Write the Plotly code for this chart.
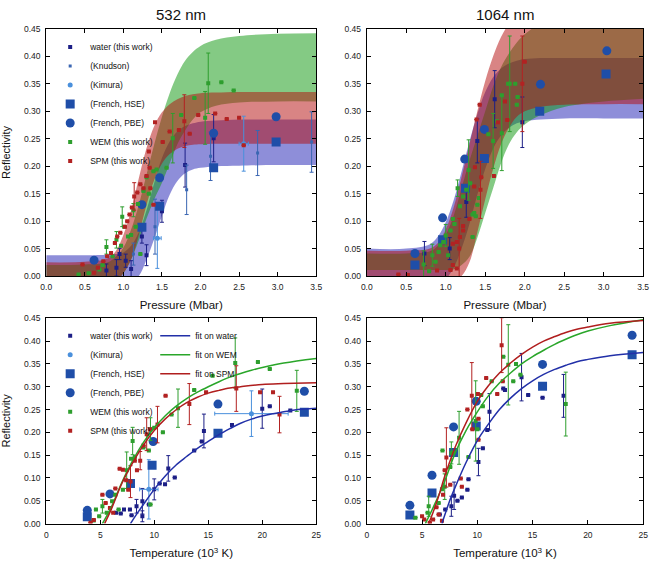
import plotly.graph_objects as go

# ---------------- colours ----------------
C_WATER = "#1c1f86"
C_KNUD = "#3a66b2"
C_KIM = "#4a90dc"
C_FRENCH = "#1f4ea8"
C_WEM = "#2e9e2e"
C_SPM = "#b22222"
C_FIT_WATER = "#2230a8"
C_FIT_WEM = "#2aa62a"
C_FIT_SPM = "#b01e1e"
F_BLUE = "rgba(30,30,180,0.5)"
F_GREEN = "rgba(10,150,10,0.5)"
F_RED = "rgba(180,10,10,0.5)"

# ---------------- 532 nm, pressure ----------------
tl_band_x = [0, 0.5, 0.8, 0.9, 1.0, 1.1, 1.2, 1.3, 1.4, 1.5, 1.6, 1.7, 1.8, 1.9, 2.0, 2.2, 2.5, 3.0, 3.5]
tl_water_lo = [-0.02, -0.02, -0.02, -0.02, -0.02, -0.01, 0.0, 0.03, 0.068, 0.11, 0.148, 0.173, 0.187, 0.194, 0.197, 0.2, 0.201, 0.202, 0.202]
tl_water_hi = [0.038, 0.038, 0.039, 0.04, 0.043, 0.055, 0.08, 0.12, 0.17, 0.215, 0.245, 0.263, 0.273, 0.278, 0.281, 0.283, 0.285, 0.285, 0.285]
tl_wem_lo = [-0.02, -0.02, -0.02, -0.01, 0.005, 0.03, 0.065, 0.105, 0.14, 0.17, 0.205, 0.24, 0.265, 0.285, 0.298, 0.31, 0.316, 0.318, 0.318]
tl_wem_hi = [0.02, 0.021, 0.025, 0.035, 0.052, 0.085, 0.13, 0.185, 0.24, 0.29, 0.333, 0.367, 0.392, 0.408, 0.419, 0.43, 0.437, 0.441, 0.442]
tl_spm_lo = [-0.02, -0.02, -0.015, -0.01, 0.005, 0.03, 0.075, 0.13, 0.175, 0.205, 0.222, 0.232, 0.237, 0.239, 0.24, 0.241, 0.241, 0.241, 0.241]
tl_spm_hi = [0.025, 0.026, 0.032, 0.045, 0.075, 0.12, 0.178, 0.233, 0.273, 0.298, 0.313, 0.322, 0.328, 0.331, 0.333, 0.334, 0.335, 0.335, 0.335]

tl_water_x = [0.78, 0.91, 0.95, 1.03, 1.10, 1.24, 1.30, 1.50, 1.80, 2.17]
tl_water_y = [0.010, 0.015, 0.040, 0.028, 0.013, 0.072, 0.038, 0.118, 0.202, 0.251]
tl_water_e = [0.012, 0.015, 0.010, 0.012, 0.015, 0.012, 0.019, 0.020, 0.040, 0.043]
tl_knud_x = [1.13, 1.41, 1.82, 2.13, 2.74, 3.44]
tl_knud_y = [0.040, 0.090, 0.157, 0.218, 0.224, 0.244]
tl_knud_e = [0.020, 0.050, 0.045, 0.044, 0.041, 0.055]
tl_kim_x = [1.44, 2.56]
tl_kim_y = [0.069, 0.241]
tl_kim_e = [0.055, 0.050]
tl_kim_xe = [0.05, 0.06]
tl_hse_x = [1.24, 1.47, 2.17, 2.98]
tl_hse_y = [0.089, 0.127, 0.197, 0.244]
tl_pbe_x = [0.62, 1.24, 1.47, 2.17, 2.98]
tl_pbe_y = [0.029, 0.130, 0.179, 0.260, 0.290]
tl_wem_x = [0.42, 0.55, 0.69, 0.73, 0.78, 0.86, 0.91, 0.97, 0.985, 1.01, 1.06, 1.10, 1.13, 1.16, 1.19, 1.22, 1.26, 1.30, 1.33, 1.39, 1.43, 1.56, 1.64, 1.75, 1.92, 2.06, 2.10, 2.27, 2.43]
tl_wem_y = [0.003, 0.005, 0.012, 0.020, 0.053, 0.036, 0.066, 0.055, 0.108, 0.090, 0.072, 0.075, 0.120, 0.090, 0.131, 0.040, 0.155, 0.180, 0.150, 0.191, 0.194, 0.197, 0.251, 0.293, 0.324, 0.288, 0.351, 0.353, 0.338]
tl_wem_e = [0, 0, 0, 0, 0.013, 0, 0.015, 0, 0.018, 0, 0, 0, 0.012, 0, 0, 0, 0, 0, 0, 0, 0, 0, 0.045, 0, 0, 0.048, 0.055, 0, 0]
tl_spm_x = [0.47, 0.62, 0.67, 0.74, 0.79, 0.84, 0.89, 0.92, 0.96, 1.02, 1.05, 1.08, 1.11, 1.14, 1.18, 1.22, 1.26, 1.30, 1.33, 1.34, 1.35, 1.39, 1.41, 1.51, 1.60, 1.72, 1.79, 1.86, 1.97, 2.19, 2.34, 2.50, 2.56]
tl_spm_y = [0.021, 0.006, 0.015, 0.027, 0.036, 0.042, 0.060, 0.072, 0.079, 0.090, 0.100, 0.112, 0.125, 0.145, 0.152, 0.167, 0.160, 0.182, 0.227, 0.197, 0.160, 0.130, 0.280, 0.244, 0.263, 0.266, 0.282, 0.259, 0.293, 0.296, 0.286, 0.288, 0.238]
tl_spm_e = [0, 0, 0, 0, 0, 0, 0, 0, 0, 0, 0, 0, 0, 0.025, 0, 0, 0, 0, 0, 0, 0, 0, 0, 0, 0, 0, 0.048, 0, 0, 0, 0, 0, 0]

# ---------------- 1064 nm, pressure ----------------
tr_band_x = [0, 0.5, 0.8, 0.9, 1.0, 1.1, 1.2, 1.3, 1.4, 1.5, 1.6, 1.7, 1.8, 1.9, 2.0, 2.2, 2.5, 3.0, 3.5]
tr_water_lo = [-0.01, -0.01, -0.01, -0.01, -0.005, 0.015, 0.05, 0.095, 0.148, 0.195, 0.232, 0.256, 0.27, 0.278, 0.282, 0.285, 0.287, 0.287, 0.287]
tr_water_hi = [0.05, 0.05, 0.058, 0.072, 0.098, 0.138, 0.19, 0.245, 0.295, 0.335, 0.362, 0.378, 0.387, 0.392, 0.395, 0.397, 0.397, 0.397, 0.397]
tr_wem_lo = [0.011, 0.011, 0.011, 0.011, 0.011, 0.012, 0.02, 0.035, 0.07, 0.115, 0.16, 0.205, 0.24, 0.262, 0.276, 0.293, 0.308, 0.318, 0.323]
tr_wem_hi = [0.041, 0.041, 0.045, 0.055, 0.075, 0.11, 0.16, 0.21, 0.255, 0.3, 0.345, 0.38, 0.405, 0.425, 0.44, 0.46, 0.475, 0.48, 0.48]
tr_spm_lo = [-0.01, -0.01, -0.01, -0.01, -0.01, -0.008, 0.0, 0.025, 0.08, 0.14, 0.195, 0.24, 0.27, 0.29, 0.3, 0.308, 0.312, 0.313, 0.313]
tr_spm_hi = [0.046, 0.046, 0.05, 0.06, 0.085, 0.125, 0.18, 0.24, 0.3, 0.355, 0.4, 0.435, 0.46, 0.478, 0.49, 0.5, 0.51, 0.51, 0.51]

tr_water_x = [0.73, 1.05, 1.26, 1.40, 1.62, 1.97]
tr_water_y = [0.041, 0.050, 0.135, 0.246, 0.322, 0.280]
tr_water_e = [0.022, 0.020, 0.028, 0.040, 0.052, 0.046]
tr_hse_x = [0.61, 0.96, 1.25, 1.49, 2.19, 3.03]
tr_hse_y = [0.020, 0.066, 0.160, 0.214, 0.300, 0.368]
tr_pbe_x = [0.61, 0.96, 1.24, 1.49, 2.20, 3.04]
tr_pbe_y = [0.041, 0.106, 0.213, 0.267, 0.349, 0.410]
tr_wem_x = [0.72, 0.79, 0.83, 0.87, 0.91, 0.93, 0.97, 1.00, 1.03, 1.06, 1.09, 1.11, 1.15, 1.18, 1.22, 1.26, 1.29, 1.31, 1.34, 1.34, 1.36, 1.38, 1.40, 1.42, 1.54, 1.60, 1.65, 1.71, 1.71, 1.79, 1.81, 1.88, 1.91, 1.90]
tr_wem_y = [0.021, 0.009, 0.038, 0.026, 0.044, 0.056, 0.062, 0.074, 0.038, 0.083, 0.104, 0.095, 0.160, 0.127, 0.145, 0.157, 0.193, 0.169, 0.112, 0.071, 0.115, 0.109, 0.130, 0.142, 0.258, 0.246, 0.282, 0.329, 0.260, 0.350, 0.350, 0.350, 0.326, 0.312]
tr_wem_e = [0.025, 0, 0.02, 0, 0, 0, 0, 0.02, 0, 0, 0, 0, 0.015, 0, 0, 0, 0.055, 0, 0, 0, 0, 0, 0, 0, 0, 0.05, 0, 0, 0.068, 0, 0.087, 0, 0, 0]
tr_spm_x = [0.40, 0.52, 0.89, 1.06, 1.09, 1.14, 1.17, 1.09, 1.14, 1.18, 1.22, 1.22, 1.30, 1.36, 1.37, 1.39, 1.43, 1.44, 1.45, 1.61, 1.66, 1.75, 1.78, 1.97, 2.00]
tr_spm_y = [0.003, 0.002, 0.010, 0.011, 0.020, 0.014, 0.050, 0.059, 0.062, 0.071, 0.091, 0.083, 0.104, 0.163, 0.198, 0.285, 0.312, 0.157, 0.180, 0.182, 0.280, 0.318, 0.284, 0.350, 0.390]
tr_spm_e = [0, 0, 0, 0, 0, 0, 0.055, 0, 0, 0, 0, 0, 0, 0, 0, 0, 0, 0.052, 0, 0, 0, 0, 0, 0.087, 0]

# ---------------- 532 nm, temperature ----------------
bl_water_x = [6.47, 6.9, 7.2, 7.75, 7.9, 8.36, 8.9, 8.9, 9.5, 10.0, 10.5, 11.0, 11.3, 11.9, 13.7, 14.4, 14.6, 16.1, 17.2, 20.0, 20.7, 22.6]
bl_water_y = [0.024, 0.022, 0.031, 0.031, 0.018, 0.038, 0.016, 0.049, 0.042, 0.075, 0.088, 0.086, 0.121, 0.101, 0.160, 0.180, 0.203, 0.203, 0.216, 0.252, 0.257, 0.248]
bl_water_e = [0, 0, 0, 0, 0, 0.015, 0.012, 0.028, 0, 0.023, 0, 0, 0.028, 0, 0, 0, 0.037, 0, 0, 0.043, 0, 0]
bl_kim_x = [9.5, 19.0]
bl_kim_y = [0.075, 0.241]
bl_kim_e = [0.065, 0.050]
bl_kim_xe = [0.85, 3.4]
bl_hse_x = [3.8, 7.8, 9.8, 15.9, 23.9]
bl_hse_y = [0.015, 0.088, 0.128, 0.198, 0.244]
bl_pbe_x = [3.8, 5.9, 9.9, 15.9, 23.9]
bl_pbe_y = [0.029, 0.065, 0.180, 0.262, 0.290]
bl_wem_x = [4.4, 4.6, 4.9, 5.2, 5.6, 6.1, 6.4, 6.7, 7.1, 7.45, 7.85, 8.0, 8.2, 9.0, 9.5, 9.65, 9.65, 10.0, 10.8, 11.6, 12.2, 13.7, 15.4, 17.5, 19.6, 20.7, 23.2]
bl_wem_y = [0.007, 0.031, 0.016, 0.038, 0.024, 0.049, 0.063, 0.031, 0.074, 0.117, 0.142, 0.181, 0.146, 0.167, 0.160, 0.207, 0.042, 0.210, 0.200, 0.239, 0.253, 0.293, 0.324, 0.352, 0.354, 0.339, 0.291]
bl_wem_e = [0, 0, 0, 0.015, 0, 0, 0, 0, 0, 0.04, 0, 0.03, 0, 0, 0, 0.025, 0, 0, 0, 0, 0.042, 0, 0, 0.055, 0, 0, 0.045]
bl_spm_x = [4.1, 4.4, 5.2, 5.5, 5.9, 6.2, 6.4, 6.8, 7.1, 7.4, 7.6, 7.8, 8.2, 8.4, 8.7, 9.0, 9.3, 9.6, 10.3, 11.05, 13.25, 14.8, 17.6, 19.8, 21.0, 21.6]
bl_spm_y = [0.002, 0.008, 0.063, 0.045, 0.034, 0.024, 0.077, 0.120, 0.118, 0.095, 0.074, 0.092, 0.138, 0.117, 0.138, 0.171, 0.196, 0.207, 0.217, 0.280, 0.262, 0.288, 0.296, 0.288, 0.288, 0.239]
bl_spm_e = [0, 0, 0, 0, 0, 0, 0, 0, 0, 0, 0, 0.035, 0, 0, 0.02, 0, 0.036, 0, 0.04, 0, 0.045, 0, 0.05, 0, 0, 0.04]
bl_fit_water_t = [7.8, 8.5, 9, 10, 11, 12, 13, 14, 15, 16, 17, 18, 19, 20, 21, 22, 23, 24, 25]
bl_fit_water_r = [0, 0.025, 0.042, 0.075, 0.104, 0.128, 0.147, 0.165, 0.18, 0.195, 0.208, 0.22, 0.229, 0.236, 0.241, 0.245, 0.249, 0.251, 0.253]
bl_fit_wem_t = [5.2, 6, 7, 8, 9, 10, 11, 12, 13, 14, 15, 16, 17, 18, 19, 20, 22, 25]
bl_fit_wem_r = [0, 0.035, 0.09, 0.138, 0.178, 0.21, 0.236, 0.257, 0.274, 0.288, 0.3, 0.311, 0.321, 0.329, 0.336, 0.342, 0.352, 0.362]
bl_fit_spm_t = [5.4, 6, 7, 8, 9, 10, 11, 12, 13, 14, 15, 16, 17, 18, 20, 22, 25]
bl_fit_spm_r = [0, 0.03, 0.088, 0.133, 0.172, 0.204, 0.229, 0.249, 0.265, 0.277, 0.286, 0.292, 0.297, 0.3, 0.305, 0.307, 0.309]

# ---------------- 1064 nm, temperature ----------------
br_water_x = [6.6, 7.1, 7.65, 7.9, 8.2, 8.6, 9.1, 9.2, 10.1, 10.5, 10.9, 11.1, 12.35, 12.5, 14.0, 14.6, 15.9, 17.8]
br_water_y = [0.020, 0.031, 0.038, 0.061, 0.050, 0.057, 0.074, 0.097, 0.135, 0.165, 0.205, 0.245, 0.296, 0.293, 0.321, 0.282, 0.276, 0.280]
br_water_e = [0, 0, 0.022, 0.03, 0, 0, 0, 0, 0.03, 0, 0, 0.04, 0, 0, 0.052, 0, 0, 0.047]
br_hse_x = [3.9, 5.9, 7.85, 9.9, 15.9, 24.0]
br_hse_y = [0.019, 0.067, 0.156, 0.214, 0.301, 0.370]
br_pbe_x = [3.9, 5.9, 7.85, 9.9, 15.9, 24.0]
br_pbe_y = [0.040, 0.106, 0.212, 0.268, 0.349, 0.413]
br_wem_x = [4.4, 5.5, 5.6, 6.5, 6.8, 6.85, 7.05, 7.55, 7.65, 7.8, 8.35, 9.2, 9.85, 10.0, 10.35, 10.5, 11.3, 12.35, 12.8, 13.25, 13.5, 13.9, 18.0]
br_wem_y = [0.013, 0.024, 0.038, 0.045, 0.075, 0.160, 0.081, 0.124, 0.155, 0.156, 0.188, 0.146, 0.225, 0.207, 0.282, 0.257, 0.312, 0.366, 0.348, 0.312, 0.350, 0.326, 0.262]
br_wem_e = [0, 0, 0.022, 0, 0, 0, 0.028, 0, 0.024, 0, 0.058, 0, 0.088, 0, 0, 0, 0, 0, 0.088, 0, 0, 0, 0.07]
br_spm_x = [5.0, 5.2, 5.7, 6.0, 6.3, 6.5, 6.8, 6.9, 7.05, 7.2, 7.55, 8.5, 8.6, 9.1, 9.5, 9.55, 10.05, 10.1, 10.1, 10.8, 11.8, 12.2, 12.3]
br_spm_y = [0.016, 0.009, 0.002, 0.009, 0.036, 0.020, 0.006, 0.063, 0.117, 0.145, 0.085, 0.099, 0.081, 0.250, 0.280, 0.207, 0.284, 0.230, 0.184, 0.319, 0.284, 0.391, 0.312]
br_spm_e = [0, 0, 0, 0, 0, 0, 0, 0, 0, 0.065, 0, 0, 0, 0, 0.073, 0, 0, 0, 0, 0, 0, 0.06, 0]
br_fit_water_t = [6.8, 7.5, 8, 9, 10, 11, 12, 13, 14, 15, 16, 17, 18, 19, 20, 22, 25]
br_fit_water_r = [0, 0.05, 0.08, 0.135, 0.182, 0.218, 0.25, 0.275, 0.296, 0.313, 0.327, 0.338, 0.347, 0.355, 0.36, 0.368, 0.375]
br_fit_wem_t = [5.3, 6, 7, 8, 9, 10, 11, 12, 13, 14, 15, 16, 17, 18, 19, 20, 22, 25]
br_fit_wem_r = [0, 0.035, 0.09, 0.155, 0.205, 0.245, 0.28, 0.308, 0.33, 0.35, 0.366, 0.38, 0.393, 0.404, 0.414, 0.422, 0.434, 0.447]
br_fit_spm_t = [5.6, 6, 6.5, 7, 7.5, 8, 9, 10, 11, 12, 13, 14, 15, 16, 17, 18, 19, 20, 22, 25]
br_fit_spm_r = [0, 0.025, 0.06, 0.1, 0.135, 0.168, 0.222, 0.268, 0.302, 0.33, 0.352, 0.371, 0.387, 0.4, 0.41, 0.419, 0.426, 0.431, 0.439, 0.445]

FONT = "Liberation Sans, Arial, Helvetica, sans-serif"
fig = go.Figure()


def band(xs, lo, hi, color, xa, ya):
    fig.add_trace(go.Scatter(x=xs, y=lo, mode="lines", line=dict(width=0, shape="spline"),
                             hoverinfo="skip", showlegend=False, xaxis=xa, yaxis=ya))
    fig.add_trace(go.Scatter(x=xs, y=hi, mode="lines", line=dict(width=0, shape="spline"),
                             fill="tonexty", fillcolor=color, hoverinfo="skip",
                             showlegend=False, xaxis=xa, yaxis=ya))


def pts(x, y, color, size, symbol, xa, ya, name, legend=None, err=None, xerr=None):
    kw = {}
    if err is not None:
        kw["error_y"] = dict(type="data", array=err, color=color, thickness=1, width=2)
    if xerr is not None:
        kw["error_x"] = dict(type="data", array=xerr, color=color, thickness=1, width=2)
    fig.add_trace(go.Scatter(
        x=x, y=y, mode="markers", name=name,
        marker=dict(color=color, size=size, symbol=symbol, line=dict(width=0)),
        xaxis=xa, yaxis=ya, showlegend=legend is not None,
        legend=legend if legend else "legend", **kw))


def fit(x, y, color, xa, ya, name, legend=None):
    fig.add_trace(go.Scatter(x=x, y=y, mode="lines", name=name,
                             line=dict(color=color, width=1.5, shape="spline"),
                             xaxis=xa, yaxis=ya, showlegend=legend is not None,
                             legend=legend if legend else "legend"))


# top-left
band(tl_band_x, tl_water_lo, tl_water_hi, F_BLUE, "x", "y")
band(tl_band_x, tl_wem_lo, tl_wem_hi, F_GREEN, "x", "y")
band(tl_band_x, tl_spm_lo, tl_spm_hi, F_RED, "x", "y")
pts(tl_water_x, tl_water_y, C_WATER, 4, "square", "x", "y", "water (this work)", "legend", tl_water_e)
pts(tl_knud_x, tl_knud_y, C_KNUD, 3, "square", "x", "y", "(Knudson)", "legend", tl_knud_e)
pts(tl_kim_x, tl_kim_y, C_KIM, 5, "circle", "x", "y", "(Kimura)", "legend", tl_kim_e, tl_kim_xe)
pts(tl_hse_x, tl_hse_y, C_FRENCH, 9, "square", "x", "y", "(French, HSE)", "legend")
pts(tl_pbe_x, tl_pbe_y, C_FRENCH, 9, "circle", "x", "y", "(French, PBE)", "legend")
pts(tl_wem_x, tl_wem_y, C_WEM, 4, "square", "x", "y", "WEM (this work)", "legend", tl_wem_e)
pts(tl_spm_x, tl_spm_y, C_SPM, 4, "square", "x", "y", "SPM (this work)", "legend", tl_spm_e)

# top-right
band(tr_band_x, tr_water_lo, tr_water_hi, F_BLUE, "x2", "y2")
band(tr_band_x, tr_wem_lo, tr_wem_hi, F_GREEN, "x2", "y2")
band(tr_band_x, tr_spm_lo, tr_spm_hi, F_RED, "x2", "y2")
pts(tr_water_x, tr_water_y, C_WATER, 4, "square", "x2", "y2", "water", None, tr_water_e)
pts(tr_hse_x, tr_hse_y, C_FRENCH, 9, "square", "x2", "y2", "HSE")
pts(tr_pbe_x, tr_pbe_y, C_FRENCH, 9, "circle", "x2", "y2", "PBE")
pts(tr_wem_x, tr_wem_y, C_WEM, 4, "square", "x2", "y2", "WEM", None, tr_wem_e)
pts(tr_spm_x, tr_spm_y, C_SPM, 4, "square", "x2", "y2", "SPM", None, tr_spm_e)

# bottom-left
pts(bl_water_x, bl_water_y, C_WATER, 4, "square", "x3", "y3", "water (this work)", "legend2", bl_water_e)
pts(bl_kim_x, bl_kim_y, C_KIM, 5, "circle", "x3", "y3", "(Kimura)", "legend2", bl_kim_e, bl_kim_xe)
pts(bl_hse_x, bl_hse_y, C_FRENCH, 9, "square", "x3", "y3", "(French, HSE)", "legend2")
pts(bl_pbe_x, bl_pbe_y, C_FRENCH, 9, "circle", "x3", "y3", "(French, PBE)", "legend2")
pts(bl_wem_x, bl_wem_y, C_WEM, 4, "square", "x3", "y3", "WEM (this work)", "legend2", bl_wem_e)
pts(bl_spm_x, bl_spm_y, C_SPM, 4, "square", "x3", "y3", "SPM (this work)", "legend2", bl_spm_e)
fit(bl_fit_water_t, bl_fit_water_r, C_FIT_WATER, "x3", "y3", "fit on water", "legend3")
fit(bl_fit_wem_t, bl_fit_wem_r, C_FIT_WEM, "x3", "y3", "fit on WEM", "legend3")
fit(bl_fit_spm_t, bl_fit_spm_r, C_FIT_SPM, "x3", "y3", "fit on SPM", "legend3")

# bottom-right
pts(br_water_x, br_water_y, C_WATER, 4, "square", "x4", "y4", "water", None, br_water_e)
pts(br_hse_x, br_hse_y, C_FRENCH, 9, "square", "x4", "y4", "HSE")
pts(br_pbe_x, br_pbe_y, C_FRENCH, 9, "circle", "x4", "y4", "PBE")
pts(br_wem_x, br_wem_y, C_WEM, 4, "square", "x4", "y4", "WEM", None, br_wem_e)
pts(br_spm_x, br_spm_y, C_SPM, 4, "square", "x4", "y4", "SPM", None, br_spm_e)
fit(br_fit_water_t, br_fit_water_r, C_FIT_WATER, "x4", "y4", "fit water")
fit(br_fit_wem_t, br_fit_wem_r, C_FIT_WEM, "x4", "y4", "fit WEM")
fit(br_fit_spm_t, br_fit_spm_r, C_FIT_SPM, "x4", "y4", "fit SPM")

W, H = 657, 561
dom_xl = [41 / W, 316 / W]
dom_xr = [367.5 / W, 649 / W]
dom_yt = [1 - 276 / H, 1 - 24.3 / H]
dom_yb = [1 - 528 / H, 1 - 319 / H]

axcommon = dict(showline=True, linecolor="black", linewidth=1, mirror="ticks", ticks="inside",
                ticklen=4, tickcolor="black", showgrid=False, zeroline=False,
                ticklabeloverflow="allow", ticklabelstandoff=3,
                tickfont=dict(size=8.5, color="#222", family=FONT))
xp = dict(range=[0, 3.5], dtick=0.5, tickformat=".1f", **axcommon)
xt = dict(range=[0, 25], dtick=5, **axcommon)
yr = dict(range=[0, 0.45], dtick=0.05, tickformat=".2f", **axcommon)
xtitle_p = dict(text="Pressure (Mbar)", font=dict(size=11.5, family=FONT, color="#111"), standoff=9)
xtitle_t = dict(text="Temperature (10<sup>3</sup> K)", font=dict(size=11.5, family=FONT, color="#111"), standoff=10)
ytitle = dict(text="Reflectivity", font=dict(size=11, family=FONT, color="#111"), standoff=12)

leg = dict(bgcolor="rgba(0,0,0,0)", font=dict(size=8.5, family=FONT, color="#111"),
           itemwidth=30, xanchor="left", yanchor="top", tracegroupgap=0, traceorder="normal")

fig.update_layout(
    width=W, height=H, margin=dict(l=0, r=0, t=0, b=0),
    paper_bgcolor="white", plot_bgcolor="white",
    font=dict(family=FONT, color="#111"),
    xaxis=dict(domain=dom_xl, anchor="y", title=xtitle_p, **xp),
    yaxis=dict(domain=dom_yt, anchor="x", title=ytitle, **yr),
    xaxis2=dict(domain=dom_xr, anchor="y2", title=xtitle_p, **xp),
    yaxis2=dict(domain=dom_yt, anchor="x2", **yr),
    xaxis3=dict(domain=dom_xl, anchor="y3", title=xtitle_t, **xt),
    yaxis3=dict(domain=dom_yb, anchor="x3", title=ytitle, **yr),
    xaxis4=dict(domain=dom_xr, anchor="y4", title=xtitle_t, **xt),
    yaxis4=dict(domain=dom_yb, anchor="x4", **yr),
    legend=dict(x=45 / W, y=1 - 28 / H, **leg),
    legend2=dict(x=45 / W, y=1 - 322 / H, **leg),
    legend3=dict(x=152 / W, y=1 - 322 / H, **leg),
    annotations=[
        dict(text="532 nm", x=sum(dom_xl) / 2, y=1 - 10 / H, xref="paper", yref="paper",
             xanchor="center", yanchor="middle",
             showarrow=False, font=dict(size=15, family=FONT, color="#111")),
        dict(text="1064 nm", x=sum(dom_xr) / 2, y=1 - 10 / H, xref="paper", yref="paper",
             xanchor="center", yanchor="middle",
             showarrow=False, font=dict(size=15, family=FONT, color="#111")),
    ],
)

fig.write_html("out.html", config={"displayModeBar": False},
               post_script="document.body.style.margin='0';document.body.style.overflow='hidden';")
